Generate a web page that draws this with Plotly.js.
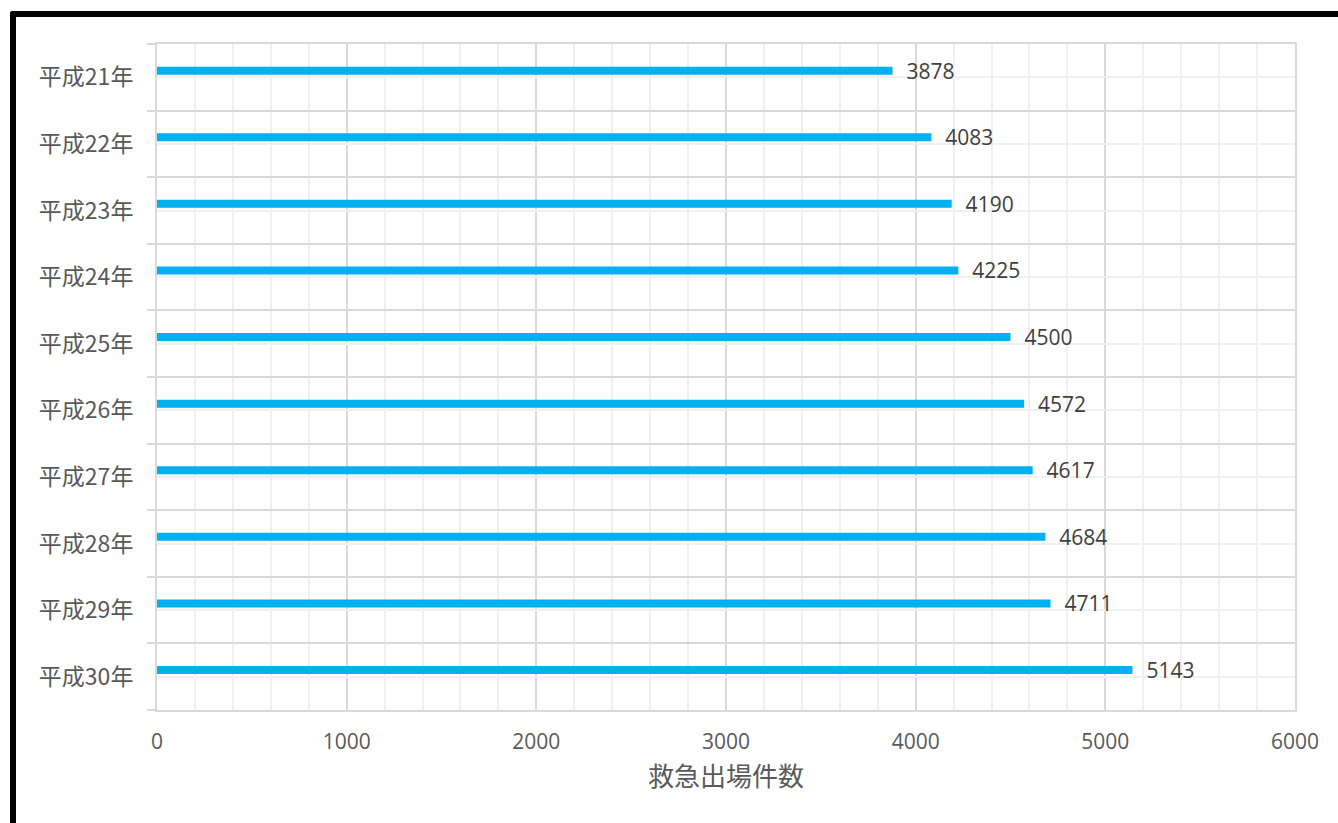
<!DOCTYPE html>
<html>
<head>
<meta charset="utf-8">
<script src="https://cdn.plot.ly/plotly-3.0.1.min.js"></script>
<style>
  html, body { margin: 0; padding: 0; background: #fff; }
  #wrap { position: relative; width: 1338px; height: 823px; overflow: hidden; }
  #chart { position: absolute; left: 0; top: 0; width: 1338px; height: 823px; }
  #frame { position: absolute; left: 10px; top: 11px; width: 1400px; height: 900px;
           border-top: 6px solid #000; border-left: 6px solid #000; border-top-left-radius: 3px;
           pointer-events: none; }
</style>
</head>
<body>
<div id="wrap">
  <div id="chart"></div>
  <div id="frame"></div>
</div>
<script>
const categories = ["平成21年", "平成22年", "平成23年", "平成24年", "平成25年",
                    "平成26年", "平成27年", "平成28年", "平成29年", "平成30年"];
const values = [3878, 4083, 4190, 4225, 4500, 4572, 4617, 4684, 4711, 5143];
const xTickVals = [0, 1000, 2000, 3000, 4000, 5000, 6000];
const xTitle = "救急出場件数";

const idx = categories.map((c, i) => i);

const trace = {
  type: "bar",
  orientation: "h",
  x: values,
  y: idx,
  width: 0.12,
  offset: -0.16,
  marker: { color: "#00b0f0" },
  text: values.map(v => "  " + v),
  textposition: "outside",
  constraintext: "none",
  cliponaxis: false,
  textfont: { family: "Open Sans, Noto Sans, sans-serif", size: 21, color: "#404040" },
  hoverinfo: "x+y"
};

const layout = {
  width: 1338,
  height: 823,
  margin: { l: 157, r: 43, t: 44, b: 113 },
  paper_bgcolor: "#ffffff",
  plot_bgcolor: "#ffffff",
  showlegend: false,
  font: { family: "Noto Sans CJK JP, sans-serif", color: "#595959" },
  xaxis: {
    range: [0, 6000],
    tickvals: xTickVals,
    ticktext: xTickVals.map(String),
    showgrid: true,
    gridcolor: "#d9d9d9",
    gridwidth: 2,
    zeroline: false,
    showline: true,
    mirror: true,
    linecolor: "#d9d9d9",
    linewidth: 2,
    ticks: "",
    ticklabelstandoff: 12,
    tickfont: { family: "Open Sans, Noto Sans, sans-serif", size: 21, color: "#595959" },
    minor: { dtick: 200, showgrid: true, gridcolor: "#f0f0f0", gridwidth: 2 },
    title: { text: xTitle, font: { family: "Noto Sans CJK JP, sans-serif", size: 26, color: "#595959" }, standoff: 14 }
  },
  yaxis: {
    range: [9.5, -0.5],
    tickvals: idx,
    ticktext: categories,
    showgrid: true,
    gridcolor: "#f0f0f0",
    gridwidth: 2,
    zeroline: false,
    showline: true,
    mirror: true,
    linecolor: "#d9d9d9",
    linewidth: 2,
    ticks: "",
    ticklabelstandoff: 17,
    tickfont: { family: "Noto Sans CJK JP, sans-serif", size: 23, color: "#595959" },
    minor: { tick0: 0.5, dtick: 1, showgrid: true, gridcolor: "#d9d9d9", gridwidth: 2,
             ticks: "outside", ticklen: 8, tickcolor: "#d9d9d9", tickwidth: 2 }
  }
};

Plotly.newPlot("chart", [trace], layout, { displayModeBar: false, staticPlot: true });
</script>
</body>
</html>
